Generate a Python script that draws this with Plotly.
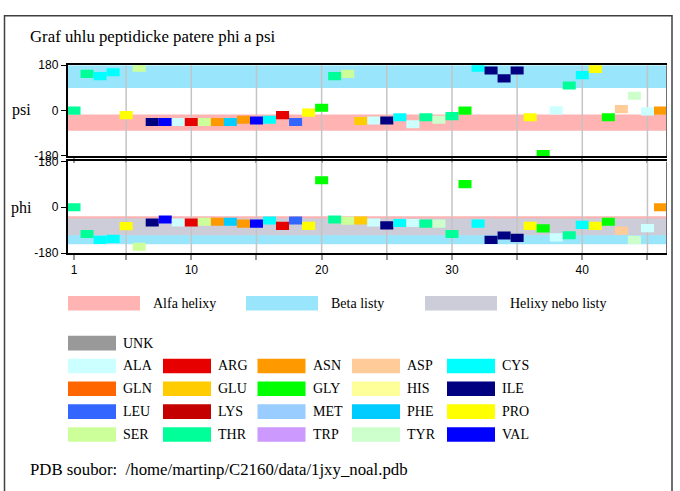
import plotly.graph_objects as go

# ---------------- data ----------------
residues = list(range(1, 47))
amino_acids = ["THR", "THR", "CYS", "CYS", "PRO", "SER", "ILE", "VAL", "ALA", "ARG",
               "SER", "ASN", "PHE", "ASN", "VAL", "CYS", "ARG", "LEU", "PRO", "GLY",
               "THR", "SER", "GLU", "ALA", "ILE", "CYS", "ALA", "THR", "TYR", "THR",
               "GLY", "CYS", "ILE", "ILE", "ILE", "PRO", "GLY", "ALA", "THR", "CYS",
               "PRO", "GLY", "ASP", "TYR", "ALA", "ASN"]
psi = [0, 146, 137, 152, -18, 170, -45, -45, -45, -45,
       -45, -45, -45, -36, -39, -36, -18, -45, -8, 11,
       137, 146, -41, -39, -39, -26, -54, -26, -36, -22,
       0, 170, 159, 128, 159, -26, -172, 1, 100, 141,
       165, -26, 6, 59, -3, 0]
phi = [0, -105, -128, -124, -74, -155, -60, -48, -60, -60,
       -57, -57, -57, -64, -64, -52, -73, -52, -73, 106,
       -48, -53, -52, -60, -71, -62, -62, -64, -64, -105,
       91, -64, -128, -111, -120, -73, -83, -118, -110, -69,
       -73, -57, -92, -128, -82, 0]

aa_names = ["UNK", "ALA", "ARG", "ASN", "ASP", "CYS", "GLN", "GLU", "GLY", "HIS", "ILE",
            "LEU", "LYS", "MET", "PHE", "PRO", "SER", "THR", "TRP", "TYR", "VAL"]
aa_hex = ["#999999", "#ccffff", "#e60000", "#ff9900", "#ffcc99", "#00ffff", "#ff6600",
          "#ffcc00", "#00ff00", "#ffff99", "#000080", "#3366ff", "#c40000", "#99ccff",
          "#00ccff", "#ffff00", "#ccff99", "#00ff99", "#cc99ff", "#ccffcc", "#0000ff"]
aa_color = dict(zip(aa_names, aa_hex))

region_names = ["Alfa helixy", "Beta listy", "Helixy nebo listy"]
region_colors = ["#ffb3b3", "#99e6fc", "#cccdd9"]
# angle ranges of regions (degrees)
alpha_phi = (-110, -35)
alpha_psi = (-80, -15)
beta_phi = (-145, -45)
beta_psi = (90, 180)

x_tickvals = [1, 5, 10, 15, 20, 25, 30, 35, 40, 45]
x_ticktext = ["1", "", "10", "", "20", "", "30", "", "40", ""]
grid_vals = [5, 10, 15, 20, 25, 30, 35, 40, 45]
y_tickvals = [-180, 0, 180]
y_ticktext = ["-180", "0", "180"]

title_text = "Graf uhlu peptidicke patere phi a psi"
pdb_text = "PDB soubor:  /home/martinp/C2160/data/1jxy_noal.pdb"

# ---------------- layout helpers ----------------
W, H = 680, 491
def px(x):
    return x / W
def py(y):
    return 1 - y / H

SERIF = "Liberation Serif, Times New Roman, serif"
SANS = "Liberation Sans, Arial, sans-serif"
BAR_H = 32

colors = [aa_color[a] for a in amino_acids]

fig = go.Figure()
fig.add_trace(go.Bar(x=residues, y=[BAR_H] * len(residues),
                     base=[v - BAR_H / 2 for v in psi], width=1,
                     marker=dict(color=colors, line=dict(width=0)),
                     xaxis="x", yaxis="y", showlegend=False, hoverinfo="skip"))
fig.add_trace(go.Bar(x=residues, y=[BAR_H] * len(residues),
                     base=[v - BAR_H / 2 for v in phi], width=1,
                     marker=dict(color=colors, line=dict(width=0)),
                     xaxis="x2", yaxis="y2", showlegend=False, hoverinfo="skip"))

xdom = [px(67.5), px(667)]
top_dom = [py(153.3), py(60)]
bot_dom = [py(253.3), py(159)]

xaxis_common = dict(range=[0.5, 46.5], showgrid=False, zeroline=False,
                    showline=True, mirror=True, linecolor="black", linewidth=1.5,
                    tickmode="array", tickvals=x_tickvals, ticktext=x_ticktext,
                    ticks="outside", ticklen=5, tickcolor="#999999", tickwidth=1.5,
                    tickfont=dict(family=SANS, size=12, color="black"),
                    fixedrange=True, domain=xdom)
yaxis_common = dict(range=[-180, 180], showgrid=False, zeroline=False,
                    showline=True, linecolor="black", linewidth=1.5,
                    tickmode="array", tickvals=y_tickvals, ticktext=y_ticktext,
                    ticks="outside", ticklen=5, tickcolor="black", tickwidth=1,
                    tickfont=dict(family=SANS, size=12, color="black"),
                    fixedrange=True)

fig.update_layout(
    width=W, height=H, autosize=False,
    margin=dict(l=0, r=0, t=0, b=0),
    paper_bgcolor="white", plot_bgcolor="white",
    barmode="overlay", showlegend=False,
    xaxis=dict(**xaxis_common, anchor="y", showticklabels=False),
    yaxis=dict(**yaxis_common, domain=top_dom, anchor="x"),
    xaxis2=dict(**xaxis_common, anchor="y2", showticklabels=True),
    yaxis2=dict(**yaxis_common, domain=bot_dom, anchor="x2"),
)

shapes = []
# region bands
def band(xr, yr, lo, hi, color):
    shapes.append(dict(type="rect", xref=xr, yref=yr, x0=0.5, x1=46.5, y0=lo, y1=hi,
                       fillcolor=color, line=dict(width=0), layer="below"))
band("x", "y", alpha_psi[0], alpha_psi[1], region_colors[0])
band("x", "y", beta_psi[0], beta_psi[1], region_colors[1])
band("x2", "y2", alpha_phi[0], alpha_phi[1], region_colors[0])
band("x2", "y2", beta_phi[0], beta_phi[1], region_colors[1])
band("x2", "y2", max(alpha_phi[0], beta_phi[0]), min(alpha_phi[1], beta_phi[1]), region_colors[2])

# grid lines (below bars, above bands)
for xr, yr in (("x", "y"), ("x2", "y2")):
    for g in grid_vals:
        shapes.append(dict(type="line", xref=xr, yref=yr, x0=g, x1=g, y0=-180, y1=180,
                           line=dict(color="#c4c4c4", width=1.5), layer="below"))
    # right edge (gray)
    shapes.append(dict(type="line", xref=xr, yref=yr, x0=46.5, x1=46.5, y0=-180, y1=180,
                       line=dict(color="#707070", width=2), layer="above"))

# outer frame
shapes.append(dict(type="rect", xref="paper", yref="paper",
                   x0=px(4.5), x1=px(672), y0=-0.05, y1=py(9),
                   line=dict(color="#404040", width=1.5), fillcolor="rgba(0,0,0,0)"))

annotations = []
annotations.append(dict(text=title_text, xref="paper", yref="paper", x=px(28), y=py(30),
                        xanchor="left", yanchor="middle", showarrow=False,
                        font=dict(family=SERIF, size=16.8, color="black")))
annotations.append(dict(text=pdb_text, xref="paper", yref="paper", x=px(28), y=py(476),
                        xanchor="left", yanchor="middle", showarrow=False,
                        font=dict(family=SERIF, size=16.8, color="black")))
annotations.append(dict(text="psi", xref="paper", yref="paper", x=px(33), y=py(106.5),
                        xanchor="right", yanchor="middle", showarrow=False,
                        font=dict(family=SERIF, size=16, color="black")))
annotations.append(dict(text="phi", xref="paper", yref="paper", x=px(34), y=py(206.5),
                        xanchor="right", yanchor="middle", showarrow=False,
                        font=dict(family=SERIF, size=16, color="black")))

def legend_box(x0, x1, yc, h, color, label, lx):
    shapes.append(dict(type="rect", xref="paper", yref="paper",
                       x0=px(x0), x1=px(x1), y0=py(yc + h / 2), y1=py(yc - h / 2),
                       fillcolor=color, line=dict(width=0)))
    annotations.append(dict(text=label, xref="paper", yref="paper", x=px(lx), y=py(yc),
                            xanchor="left", yanchor="middle", showarrow=False,
                            font=dict(family=SERIF, size=14, color="black")))

# region legend
region_x = [68, 246, 425]
for i, (nm, col) in enumerate(zip(region_names, region_colors)):
    legend_box(region_x[i], region_x[i] + 72, 305, 15, col, nm, region_x[i] + 83)

# amino acid legend
col_x = [68, 163, 257.5, 352, 447]
legend_box(col_x[0], col_x[0] + 48, 346, 15, aa_color["UNK"], "UNK", col_x[0] + 53)
row_y = [369.5, 393, 416.5, 440]
for k, nm in enumerate(aa_names[1:]):
    r, c = divmod(k, 5)
    legend_box(col_x[c], col_x[c] + 48, row_y[r], 15, aa_color[nm], nm, col_x[c] + 53)

fig.update_layout(shapes=shapes, annotations=annotations)
fig.write_html("out.html", config={"displayModeBar": False},
               post_script="document.body.style.margin='0px';document.body.style.padding='0px';")
